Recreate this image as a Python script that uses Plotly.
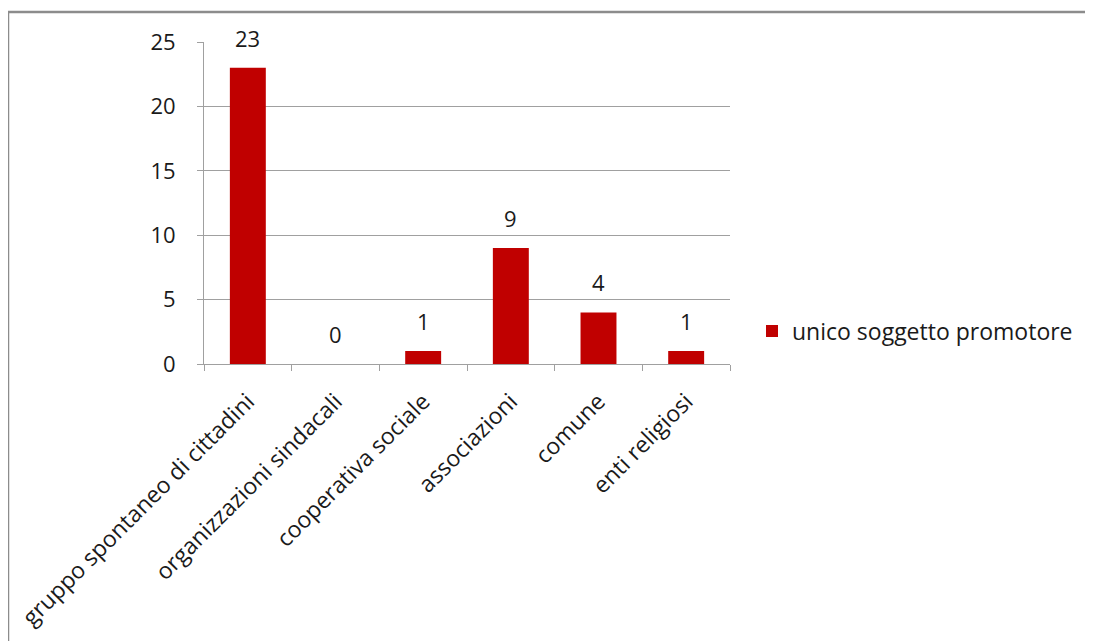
import plotly.graph_objects as go

categories = ["gruppo spontaneo di cittadini", "organizzazioni sindacali", "cooperativa sociale",
              "associazioni", "comune", "enti religiosi"]
values = [23, 0, 1, 9, 4, 1]
series_name = "unico soggetto promotore"
y_ticks = [0, 5, 10, 15, 20, 25]

OFF = 8  # default page body margin
W, H = 1093 - OFF, 641 - OFF
L, R, T, B = 204 - OFF, 730 - OFF, 42 - OFF, 364 - OFF
pw, ph = R - L, B - T

font_family = "Open Sans, sans-serif"
txt = "#1a1a1a"

fig = go.Figure()
fig.add_trace(go.Bar(
    x=categories, y=values, name=series_name,
    marker=dict(color="#c00000", line=dict(width=0)),
    showlegend=True,
))

for c, v in zip(categories, values):
    fig.add_annotation(x=c, y=v, text=str(v), showarrow=False, yanchor="bottom",
                       yshift=13, font=dict(size=22, color=txt, family=font_family))

fig.update_layout(
    width=W, height=H,
    margin=dict(l=L, r=W - R, t=T, b=H - B, autoexpand=False),
    paper_bgcolor="white", plot_bgcolor="white",
    bargap=0.59,
    font=dict(family=font_family, size=22, color=txt),
    showlegend=True,
    legend=dict(x=(752 - 204) / pw, y=(364 - 331) / ph, xanchor="left", yanchor="middle",
                font=dict(size=23, color=txt), bgcolor="rgba(0,0,0,0)",
                itemwidth=30),
    xaxis=dict(
        tickangle=-45, showgrid=False, showline=True, linecolor="#a0a0a0", linewidth=1,
        ticks="outside", ticklen=6, tickcolor="#a0a0a0", tickson="boundaries",
        tickfont=dict(size=23, color=txt), ticklabelstandoff=14, automargin=False,
    ),
    yaxis=dict(
        range=[0, 25], tickvals=y_ticks, showgrid=True, gridcolor="#a0a0a0", gridwidth=1,
        showline=True, linecolor="#a0a0a0", linewidth=1, ticks="outside", ticklen=6,
        tickcolor="#a0a0a0", tickfont=dict(size=22, color=txt), zeroline=False,
        ticklabelstandoff=17, automargin=False,
    ),
    shapes=[dict(
        type="rect", xref="paper", yref="paper",
        x0=(8 - 204) / pw, x1=(1110 - 204) / pw,
        y0=(364 - 660) / ph, y1=(364 - 12) / ph,
        line=dict(color="#8c8c8c", width=2.5), fillcolor="rgba(0,0,0,0)", layer="below",
    )],
)

fig.write_html("out.html")
